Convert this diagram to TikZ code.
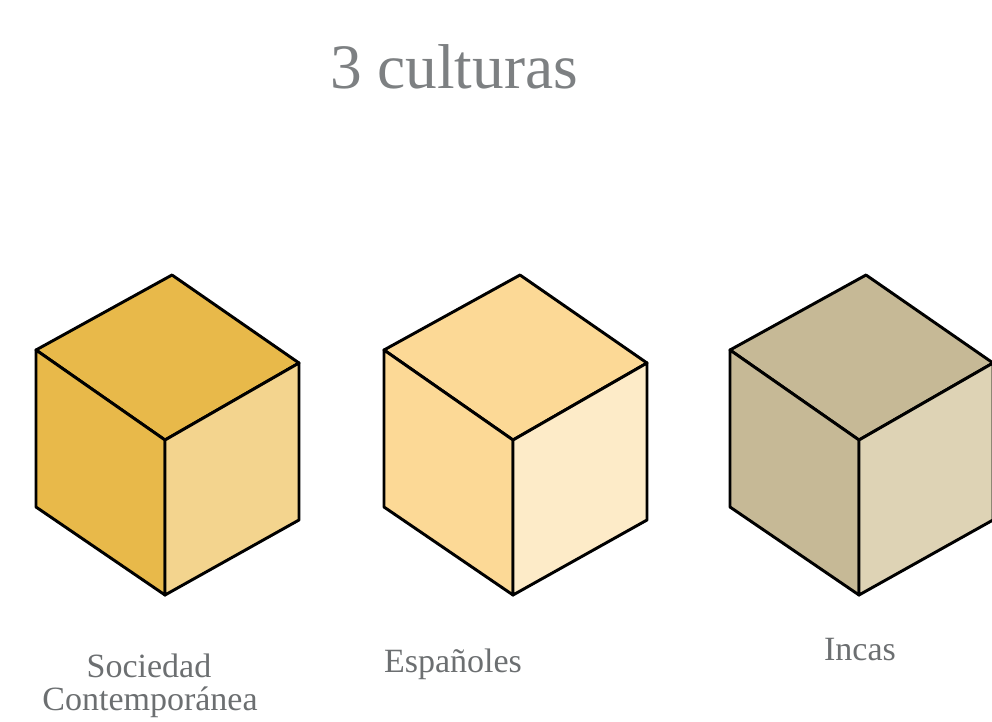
\documentclass[tikz,border=0pt]{standalone}
\usepackage{fontspec}
\setmainfont{Liberation Serif}
\usepackage{tikz}
\definecolor{titleG}{RGB}{125,128,130}
\definecolor{labelG}{RGB}{108,111,113}
\definecolor{sociedadD}{RGB}{232,185,74}
\definecolor{sociedadL}{RGB}{243,212,142}
\definecolor{espanaD}{RGB}{252,217,150}
\definecolor{espanaL}{RGB}{253,235,200}
\definecolor{incaD}{RGB}{198,185,150}
\definecolor{incaL}{RGB}{222,211,181}

\begin{document}
\begin{tikzpicture}[x=0.75pt, y=-0.75pt,
  face/.style={draw=black, line width=2.2pt, line join=round},
  ttl/.style={font=\fontsize{47.5}{50}\selectfont, text=titleG, anchor=base},
  lbl/.style={font=\fontsize{25.5}{24.75}\selectfont, text=labelG, anchor=base, align=center}]
  \useasboundingbox (0,0) rectangle (992,721);
  \clip (0,0) rectangle (992,721);
  % three cubes: centre vertex x, dark face, light face
  \foreach \cx/\dk/\lt in {165/sociedadD/sociedadL, 513/espanaD/espanaL, 859/incaD/incaL}{
    \coordinate (c) at (\cx,440);
    \filldraw[face, fill=\dk] (c) -- ++(-129,-90) -- ++(136,-75) -- ++(127,88) -- cycle;
    \filldraw[face, fill=\dk] (c) -- ++(-129,-90) -- ++(0,157) -- ++(129,88) -- cycle;
    \filldraw[face, fill=\lt] (c) -- ++(134,-77) -- ++(0,157) -- ++(-134,75) -- cycle;
  }
  \node[ttl] (title) at (454,88) {3 culturas};
  \node[lbl] (soc) at (149,677) {Sociedad};
  \node[lbl] (con) at (150,710) {Contemporánea};
  \node[lbl] (esp) at (453,672) {Españoles};
  \node[lbl] (inc) at (860,660) {Incas};
\end{tikzpicture}
\end{document}
